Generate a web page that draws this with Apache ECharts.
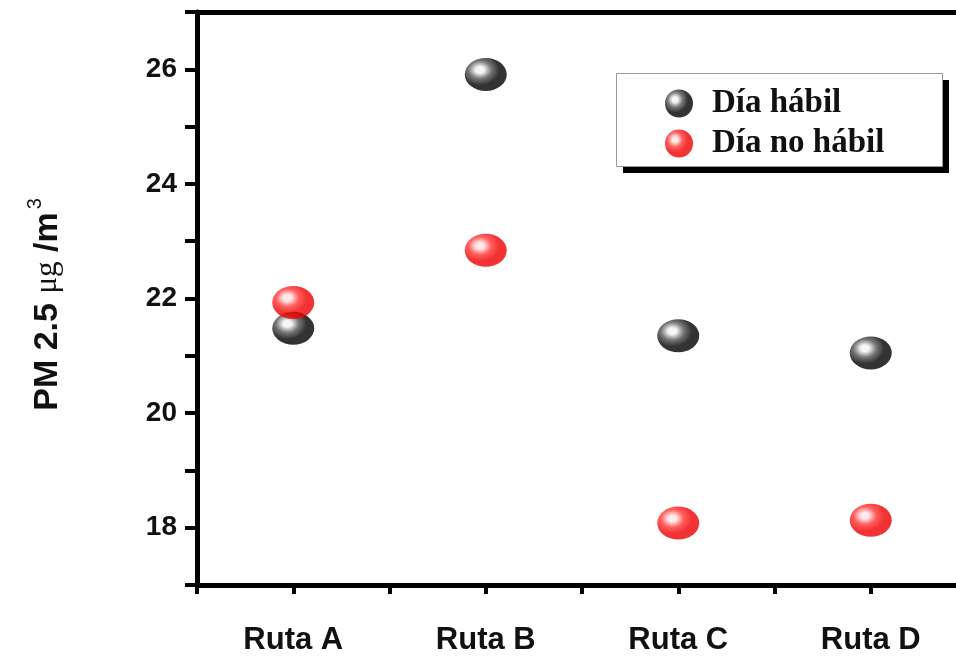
<!DOCTYPE html>
<html>
<head>
<meta charset="utf-8">
<script src="https://cdn.jsdelivr.net/npm/echarts@6/dist/echarts.min.js"></script>
<style>html,body{margin:0;padding:0;background:#fff}#c{width:956px;height:658px}</style>
</head>
<body>
<div id="c"></div>
<script>
var categories = ['Ruta A', 'Ruta B', 'Ruta C', 'Ruta D'];
var diaHabil = [21.48, 25.91, 21.35, 21.05];
var diaNoHabil = [21.93, 22.84, 18.08, 18.13];
var yTicks = [18, 20, 22, 24, 26];
var xTickValues = [0.5, 1, 1.5, 2, 2.5, 3, 3.5, 4];
var xLabelValues = [1, 2, 3, 4];

function sphere(light, mid, dark) {
  return {
    type: 'radial', x: 0.36, y: 0.36, r: 0.8,
    colorStops: [{offset: 0, color: light}, {offset: 0.12, color: light}, {offset: 0.34, color: mid}, {offset: 0.58, color: dark}, {offset: 1, color: dark}]
  };
}
var blackFill = sphere('#f4f4f4', '#555555', '#000000');
var redFill = sphere('#ffe4e4', '#ff3535', '#ee0000');

var chart = echarts.init(document.getElementById('c'));
var axisLine = {lineStyle: {color: '#000', width: 5}};
var xMax = 0.5 + 759 / 192.5;
chart.setOption({
  animation: false,
  grid: {left: 197, right: 0, top: 12, bottom: 73},
  graphic: [
    {type: 'rect', left: 623, top: 80, shape: {width: 326, height: 93}, style: {fill: '#000'}, z: 10},
    {type: 'rect', left: 616, top: 73, shape: {width: 326, height: 93}, style: {fill: '#fff', stroke: '#999', lineWidth: 1}, z: 11}
  ],
  legend: {
    left: 665, top: 87, z: 20,
    orient: 'vertical',
    padding: 0,
    itemWidth: 32, itemHeight: 28, itemGap: 7,
    icon: 'circle',
    textStyle: {fontFamily: 'Liberation Serif', fontWeight: 'bold', fontSize: 33, lineHeight: 32, color: '#111', padding: [0, 0, 0, 12]},
    data: ['Día hábil', 'Día no hábil']
  },
  xAxis: [{
    type: 'value', min: 0.5, max: xMax,
    axisLine: axisLine,
    axisTick: {show: true, length: 9, customValues: xTickValues, lineStyle: {color: '#000', width: 4}},
    splitLine: {show: false},
    axisLabel: {
      margin: 40, fontFamily: 'Liberation Sans', fontWeight: 'bold', fontSize: 31, color: '#111',
      customValues: xLabelValues,
      formatter: function (v) { var k = Math.round(v); return categories[k - 1] || ''; }
    }
  }, {
    type: 'value', position: 'top', min: 0.5, max: xMax,
    axisLine: axisLine, axisTick: {show: false}, axisLabel: {show: false}, splitLine: {show: false}
  }],
  yAxis: {
    type: 'value', min: 17, max: 27, interval: 1,
    axisLine: axisLine,
    axisTick: {show: true, length: 12, lineStyle: {color: '#000', width: 4}},
    splitLine: {show: false},
    axisLabel: {
      margin: 20, fontFamily: 'Liberation Sans', fontWeight: 'bold', fontSize: 28, color: '#111',
      formatter: function (v) { return yTicks.indexOf(v) >= 0 ? String(v) : ''; }
    },
    name: '{a|PM 2.5 }{b|μg}{a| /m}{s|3}',
    nameLocation: 'middle', nameRotate: 90, nameGap: 126,
    nameTextStyle: {
      padding: [0, 12, 0, 0],
      rich: {
        a: {fontFamily: 'Liberation Sans', fontWeight: 'bold', fontSize: 34, color: '#111'},
        b: {fontFamily: 'Liberation Serif', fontSize: 31, color: '#111'},
        s: {fontFamily: 'Liberation Sans', fontSize: 20, color: '#111', verticalAlign: 'top', padding: [0, 0, 26, 3]}
      }
    }
  },
  series: [
    {
      name: 'Día hábil', type: 'scatter', symbol: 'circle', symbolSize: [42, 33],
      itemStyle: {color: blackFill},
      data: diaHabil.map(function (v, i) { return [i + 1, v]; }), z: 2
    },
    {
      name: 'Día no hábil', type: 'scatter', symbol: 'circle', symbolSize: [42, 33],
      itemStyle: {color: redFill},
      data: diaNoHabil.map(function (v, i) { return [i + 1, v]; }), z: 3
    }
  ]
});
</script>
</body>
</html>
